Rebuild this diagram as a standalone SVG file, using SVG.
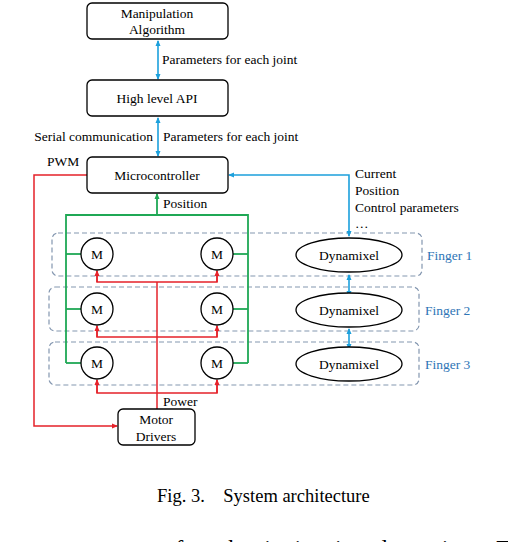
<svg xmlns="http://www.w3.org/2000/svg" width="508" height="542" viewBox="0 0 508 542">
<style>
.box{fill:#fff;stroke:#000;stroke-width:1.3}
.t{font-family:"Liberation Serif","Times New Roman",serif;font-size:13.5px;fill:#000}
.c{text-anchor:middle}
.fl{font-family:"Liberation Serif","Times New Roman",serif;font-size:13.5px;fill:#2e75b6}
.grp{fill:none;stroke:#8497b0;stroke-width:1.2;stroke-dasharray:5,3}
.blue{fill:none;stroke:#1ca0dc;stroke-width:1.6}
.green{fill:none;stroke:#1fa855;stroke-width:1.8}
.red{fill:none;stroke:#e5222a;stroke-width:1.5}
.mot{fill:#fff;stroke:#000;stroke-width:1.3}
</style>
<defs>
<marker id="ab" markerWidth="6" markerHeight="6" refX="5" refY="3" orient="auto-start-reverse" markerUnits="userSpaceOnUse"><path d="M0,0.5 L6,3 L0,5.5 z" fill="#1ca0dc"/></marker>
<marker id="ag" markerWidth="6" markerHeight="6" refX="5" refY="3" orient="auto" markerUnits="userSpaceOnUse"><path d="M0,0.5 L6,3 L0,5.5 z" fill="#1fa855"/></marker>
<marker id="ar" markerWidth="6" markerHeight="6" refX="5" refY="3" orient="auto" markerUnits="userSpaceOnUse"><path d="M0,0.5 L6,3 L0,5.5 z" fill="#e5222a"/></marker>
</defs>

<g id="finger-groups">
<rect id="finger1-group" class="grp" x="52" y="233" width="370" height="43" rx="6"/>
<rect id="finger2-group" class="grp" x="49" y="287" width="370" height="44" rx="6"/>
<rect id="finger3-group" class="grp" x="49" y="342" width="370" height="43" rx="6"/>
</g>

<g id="connectors">
<line class="blue" x1="158" y1="41" x2="158" y2="79" marker-start="url(#ab)" marker-end="url(#ab)"/>
<line class="blue" x1="158" y1="118" x2="158" y2="156" marker-start="url(#ab)" marker-end="url(#ab)"/>
<polyline class="blue" points="349,236 349,175 229,175" marker-start="url(#ab)" marker-end="url(#ab)"/>
<line class="blue" x1="349" y1="275" x2="349" y2="296" marker-start="url(#ab)" marker-end="url(#ab)"/>
<line class="blue" x1="349" y1="329" x2="349" y2="349" marker-start="url(#ab)" marker-end="url(#ab)"/>

<line class="green" x1="157" y1="215" x2="157" y2="194" marker-end="url(#ag)"/>
<polyline class="green" points="66,363 66,215 248,215 248,363"/>
<line class="green" x1="66" y1="254" x2="81" y2="254"/>
<line class="green" x1="66" y1="309" x2="81" y2="309"/>
<line class="green" x1="66" y1="363" x2="81" y2="363"/>
<line class="green" x1="233" y1="254" x2="248" y2="254"/>
<line class="green" x1="233" y1="309" x2="248" y2="309"/>
<line class="green" x1="233" y1="363" x2="248" y2="363"/>

<polyline class="red" points="87,175 34,175 34,426 117,426" marker-end="url(#ar)"/>
<line class="red" x1="157" y1="409" x2="157" y2="282"/>
<polyline class="red" points="97,271 97,282 217,282 217,271"/>
<polyline class="red" points="97,326 97,337 217,337 217,326"/>
<polyline class="red" points="97,380 97,393 217,393 217,380"/>
<line class="red" x1="97" y1="282" x2="97" y2="271" marker-end="url(#ar)"/>
<line class="red" x1="217" y1="282" x2="217" y2="271" marker-end="url(#ar)"/>
<line class="red" x1="97" y1="337" x2="97" y2="326" marker-end="url(#ar)"/>
<line class="red" x1="217" y1="337" x2="217" y2="326" marker-end="url(#ar)"/>
<line class="red" x1="97" y1="393" x2="97" y2="380" marker-end="url(#ar)"/>
<line class="red" x1="217" y1="393" x2="217" y2="380" marker-end="url(#ar)"/>

<text class="t" x="162" y="64">Parameters for each joint</text>
<text class="t" x="153" y="141" text-anchor="end">Serial communication</text>
<text class="t" x="163" y="141">Parameters for each joint</text>
<text class="t" x="47" y="166">PWM</text>
<text class="t" x="163" y="208">Position</text>
<text class="t" x="355" y="178">Current</text>
<text class="t" x="355" y="195">Position</text>
<text class="t" x="355" y="212">Control parameters</text>
<text class="t" x="355" y="228">…</text>
<text class="t" x="163" y="406">Power</text>
</g>

<g id="manipulation-algorithm">
<rect class="box" x="87" y="3" width="141" height="36" rx="5"/>
<text class="t c" x="157" y="18">Manipulation</text>
<text class="t c" x="157" y="34">Algorithm</text>
</g>
<g id="high-level-api">
<rect class="box" x="87" y="80" width="141" height="36" rx="5"/>
<text class="t c" x="157" y="103">High level API</text>
</g>
<g id="microcontroller">
<rect class="box" x="87" y="157" width="141" height="36" rx="5"/>
<text class="t c" x="157" y="180">Microcontroller</text>
</g>
<g id="motor-drivers">
<rect class="box" x="118" y="409" width="77" height="36" rx="5"/>
<text class="t c" x="156" y="424">Motor</text>
<text class="t c" x="156" y="441">Drivers</text>
</g>

<g id="motor-1a"><circle class="mot" cx="97" cy="254" r="16"/><text class="t c" x="97" y="259">M</text></g>
<g id="motor-1b"><circle class="mot" cx="217" cy="254" r="16"/><text class="t c" x="217" y="259">M</text></g>
<g id="motor-2a"><circle class="mot" cx="97" cy="309" r="16"/><text class="t c" x="97" y="314">M</text></g>
<g id="motor-2b"><circle class="mot" cx="217" cy="309" r="16"/><text class="t c" x="217" y="314">M</text></g>
<g id="motor-3a"><circle class="mot" cx="97" cy="363" r="16"/><text class="t c" x="97" y="368">M</text></g>
<g id="motor-3b"><circle class="mot" cx="217" cy="363" r="16"/><text class="t c" x="217" y="368">M</text></g>

<g id="dynamixel-1"><ellipse class="mot" cx="349" cy="255" rx="53" ry="17"/><text class="t c" x="349" y="260">Dynamixel</text></g>
<g id="dynamixel-2"><ellipse class="mot" cx="349" cy="310" rx="53" ry="17"/><text class="t c" x="349" y="315">Dynamixel</text></g>
<g id="dynamixel-3"><ellipse class="mot" cx="349" cy="364" rx="53" ry="17"/><text class="t c" x="349" y="369">Dynamixel</text></g>

<g id="finger-labels">
<text class="fl" x="427" y="260">Finger 1</text>
<text class="fl" x="425" y="315">Finger 2</text>
<text class="fl" x="425" y="369">Finger 3</text>
</g>

<g id="caption">
<text x="157" y="502" style="font-family:'Liberation Serif','Times New Roman',serif;font-size:18.5px;fill:#000;white-space:pre">Fig. 3.    System architecture</text>
<text x="-3" y="556" style="font-family:'Liberation Serif','Times New Roman',serif;font-size:24px;fill:#000" textLength="514" lengthAdjust="spacing">tory generator for the imitation learning. T</text>
</g>
</svg>
